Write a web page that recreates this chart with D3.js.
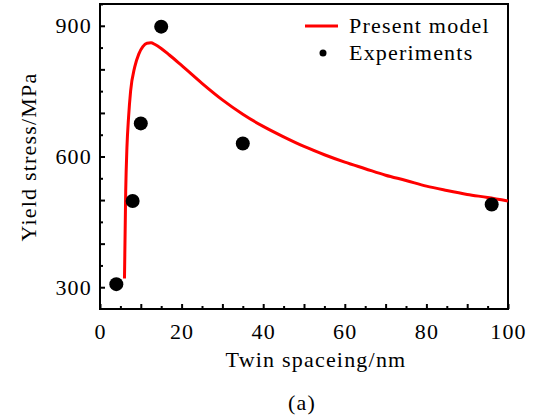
<!DOCTYPE html>
<html>
<head>
<meta charset="utf-8">
<title>Yield stress vs twin spacing</title>
<script src="https://cdn.jsdelivr.net/npm/d3@7"></script>
<style>
body { margin: 0; background: #fff; }
</style>
</head>
<body>
<svg width="536" height="420"></svg>
<script>

// model curve (red line)
var modelX = [6.0, 6.3, 6.6, 7.0, 7.5, 8.5, 9.5, 10.5, 11.5, 12.5, 13.5, 15, 17, 20, 25, 30, 35, 40, 45, 50, 55, 60, 65, 70, 75, 80, 85, 90, 95, 100];
var modelY = [320, 520, 620, 690, 750, 805, 835, 852, 860, 861, 857, 848, 833, 809, 768, 730, 697, 669, 645, 623, 604, 587, 572, 557, 545, 532, 522, 513, 506, 498];

// experiments (black dots)
var expX = [4, 8, 10, 15, 35, 96];
var expY = [307, 498, 676, 898, 630, 490];

var xTicks = [0, 20, 40, 60, 80, 100];
var yTicks = [300, 600, 900];

var svg = d3.select("svg");
var mLeft = 100, mRight = 508, mTop = 4, mBottom = 309;
var font = "Liberation Serif", fs = 22, ls = "1.2px";

function styleText(sel) {
  sel.attr("font-family", font).attr("font-size", fs)
     .attr("letter-spacing", ls).attr("fill", "#000");
}

var x = d3.scaleLinear().domain([0, 100]).range([mLeft, mRight]);
var y = d3.scaleLinear().domain([250, 950]).range([mBottom, mTop]);

// minor/major ticks, inward
var gx = svg.append("g").attr("transform", "translate(0," + mBottom + ")")
    .call(d3.axisBottom(x).tickValues(d3.range(0, 101, 5)).tickSize(0).tickFormat(""));
gx.select(".domain").remove();
gx.selectAll(".tick line")
    .attr("y2", function(d) { return d % 10 === 0 ? -5 : -3; })
    .attr("stroke", "#000").attr("stroke-width", 2);

var gx2 = svg.append("g").attr("transform", "translate(0," + mBottom + ")")
    .call(d3.axisBottom(x).tickValues(xTicks).tickSize(0).tickPadding(14));
gx2.select(".domain").remove();
gx2.selectAll("text").call(styleText);

var gy = svg.append("g").attr("transform", "translate(" + mLeft + ",0)")
    .call(d3.axisLeft(y).tickValues(d3.range(300, 951, 50)).tickSize(0).tickFormat(""));
gy.select(".domain").remove();
gy.selectAll(".tick line")
    .attr("x2", function(d) { return d % 100 === 0 ? 5 : 3; })
    .attr("stroke", "#000").attr("stroke-width", 2);

var gy2 = svg.append("g").attr("transform", "translate(" + mLeft + ",0)")
    .call(d3.axisLeft(y).tickValues(yTicks).tickSize(0).tickPadding(8));
gy2.select(".domain").remove();
gy2.selectAll("text").call(styleText);

// frame
svg.append("rect")
    .attr("x", mLeft).attr("y", mTop)
    .attr("width", mRight - mLeft).attr("height", mBottom - mTop)
    .attr("fill", "none").attr("stroke", "#000").attr("stroke-width", 2);

var model = modelX.map(function(d, i) { return [d, modelY[i]]; });
svg.append("path")
    .datum(model)
    .attr("fill", "none")
    .attr("stroke", "#ff0000")
    .attr("stroke-width", 3)
    .attr("stroke-linejoin", "round")
    .attr("d", d3.line().curve(d3.curveMonotoneX)
        .x(function(d) { return x(d[0]); })
        .y(function(d) { return y(d[1]); }));

svg.append("g").selectAll("circle")
    .data(expX)
    .enter().append("circle")
      .attr("cx", function(d) { return x(d); })
      .attr("cy", function(d, i) { return y(expY[i]); })
      .attr("r", 7)
      .attr("fill", "#000");

// legend
svg.append("line")
    .attr("x1", 305).attr("x2", 338).attr("y1", 26).attr("y2", 26)
    .attr("stroke", "#ff0000").attr("stroke-width", 3);
svg.append("text").attr("x", 349).attr("y", 33).call(styleText).text("Present model");
svg.append("circle").attr("cx", 323).attr("cy", 53).attr("r", 3.5).attr("fill", "#000");
svg.append("text").attr("x", 349).attr("y", 60).call(styleText).text("Experiments");

// axis titles
svg.append("text")
    .attr("x", 316).attr("y", 367)
    .attr("text-anchor", "middle")
    .call(styleText)
    .text("Twin spaceing/nm");

svg.append("text")
    .attr("transform", "translate(36,157) rotate(-90)")
    .attr("text-anchor", "middle")
    .call(styleText)
    .text("Yield stress/MPa");

svg.append("text")
    .attr("x", 302).attr("y", 410)
    .attr("text-anchor", "middle")
    .call(styleText)
    .text("(a)");

</script>
</body>
</html>
